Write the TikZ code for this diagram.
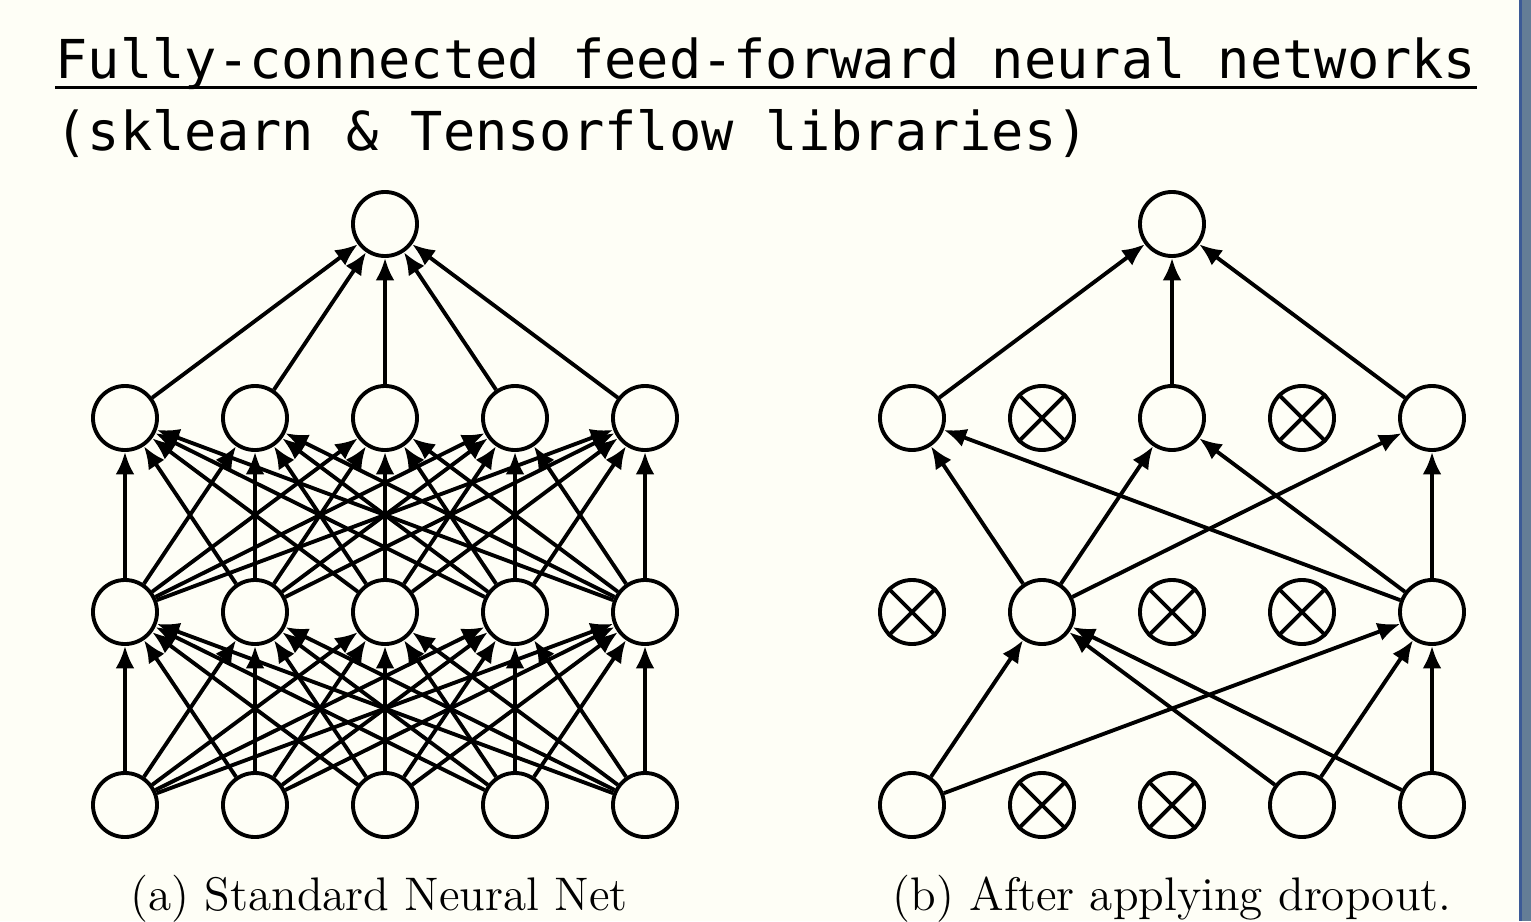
\documentclass[tikz,border=0pt]{standalone}
\usepackage{fontspec}
\newfontfamily\monofont{DejaVu Sans Mono}
\usetikzlibrary{arrows.meta}
\definecolor{bgc}{RGB}{254,254,246}
\definecolor{barc}{RGB}{100,125,150}
\definecolor{baredge}{RGB}{60,90,150}
\begin{document}
\begin{tikzpicture}[x=0.01cm,y=-0.01cm,
  neuron/.style={circle,draw,line width=1.1pt,minimum size=0.64cm,inner sep=0pt,fill=bgc},
  conn/.style={line width=1.1pt,-{Latex[length=6.4pt,width=5.4pt]}},
  xmark/.style={line width=1.1pt},
  titlefont/.style={font=\monofont\fontsize{15.25}{18}\selectfont},
  capfont/.style={font=\fontsize{13.4}{16}\selectfont}]
\fill[bgc] (0,0) rectangle (1531,921);
\fill[barc] (1520,0) rectangle (1531,921);
\fill[baredge] (1519,0) rectangle (1522,921);
\useasboundingbox (0,0) rectangle (1531,921);

% title
\node[titlefont,anchor=base west,inner sep=0pt] (t1) at (55,78) {Fully-connected feed-forward neural networks};
\node[titlefont,anchor=base west,inner sep=0pt] (t2) at (55,150) {(sklearn \& Tensorflow libraries)};
\draw[line width=0.9pt] ([yshift=-0.095cm]t1.base west) -- ([yshift=-0.095cm]t1.base east);

% left network
\node[neuron] (LT) at (385,224) {};
\foreach \i/\x in {1/125,2/255,3/385,4/515,5/645}{
  \node[neuron] (LA\i) at (\x,418) {};
  \node[neuron] (LB\i) at (\x,612) {};
  \node[neuron] (LC\i) at (\x,805) {};
}
\foreach \i in {1,...,5}{
  \draw[conn] (LA\i) -- (LT);
  \foreach \j in {1,...,5}{
    \draw[conn] (LB\i) -- (LA\j);
    \draw[conn] (LC\i) -- (LB\j);
  }
}

% right network
\node[neuron] (RT) at (1172,224) {};
\foreach \i/\x in {1/912,2/1042,3/1172,4/1302,5/1432}{
  \node[neuron] (RA\i) at (\x,418) {};
  \node[neuron] (RB\i) at (\x,612) {};
  \node[neuron] (RC\i) at (\x,805) {};
}
\foreach \n in {RA2,RA4,RB1,RB3,RB4,RC2,RC3}{
  \draw[xmark] (\n.45) -- (\n.225) (\n.135) -- (\n.315);
}
\foreach \i in {1,3,5}{
  \draw[conn] (RA\i) -- (RT);
  \draw[conn] (RB2) -- (RA\i);
  \draw[conn] (RB5) -- (RA\i);
}
\foreach \i in {1,4,5}{
  \draw[conn] (RC\i) -- (RB2);
  \draw[conn] (RC\i) -- (RB5);
}

% captions
\node[capfont,anchor=base,inner sep=0pt] (ca) at (379,910) {(a) Standard Neural Net};
\node[capfont,anchor=base,inner sep=0pt] (cb) at (1172,910) {(b) After applying dropout.};
\end{tikzpicture}
\end{document}
